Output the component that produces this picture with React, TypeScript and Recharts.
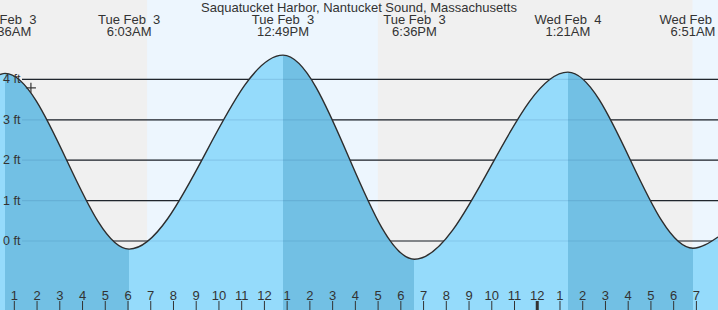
import React from "react";
import {
  ComposedChart,
  Area,
  XAxis,
  YAxis,
  ReferenceArea,
  ReferenceLine,
  ReferenceDot,
} from "recharts";

// hours from midnight Tue Feb 3
const TITLE = "Saquatucket Harbor, Nantucket Sound, Massachusetts";
const viewStart = 0.37;
const viewEnd = 31.95;
const tideTimes = [0.37, 0.6, 6.05, 12.82, 18.6, 25.35, 30.85, 31.95];
const tideHeights = [4.12, 4.15, -0.2, 4.6, -0.45, 4.18, -0.18, 0.1];

const eventTimes = [0.6, 6.05, 12.82, 18.6, 25.35, 30.85];
const eventHeights = [4.15, -0.2, 4.6, -0.45, 4.18, -0.18];
const eventDays = ["Tue Feb  3", "Tue Feb  3", "Tue Feb  3", "Tue Feb  3", "Wed Feb  4", "Wed Feb  4"];
const eventClock = ["12:36AM", "6:03AM", "12:49PM", "6:36PM", "1:21AM", "6:51AM"];
const eventKind = ["high", "low", "high", "low", "high", "low"];

const dayStarts = [6.84, 30.83];
const dayEnds = [16.99, 31.95];

const hourTicks = Array.from({ length: 31 }, (_, i) => i + 1);
const gridLevels = [0, 1, 2, 3, 4];
const yMin = -1.708;
const yMax = 5.965;

const nowTime = 1.73;
const nowHeight = 3.79;

const data = tideTimes.map((t, i) => ({ t, h: tideHeights[i] }));

const W = 718;
const H = 310;
const FONT = "'Liberation Sans', Arial, sans-serif";
const TEXT = "#333";
const LIGHT = "#95dbfb";
const DARK = "#72c0e4";

// gradient stops: falling tide (high -> low) is darker
const span = viewEnd - viewStart;
const stops: { off: number; color: string }[] = [];
{
  let prev = viewStart;
  let color = LIGHT;
  for (let i = 0; i < eventTimes.length; i++) {
    const off = (eventTimes[i] - viewStart) / span;
    stops.push({ off: (prev - viewStart) / span, color });
    stops.push({ off, color });
    color = eventKind[i] === "high" ? DARK : LIGHT;
    prev = eventTimes[i];
  }
  stops.push({ off: (prev - viewStart) / span, color });
  stops.push({ off: 1, color });
}

export default function App() {
  return (
    <div style={{ position: "absolute", left: 0, top: 0, width: W, height: H, background: "#f0f0f0" }}>
      <ComposedChart width={W} height={H} data={data} margin={{ top: 0, right: 0, bottom: 0, left: 0 }}>
        <defs>
          <linearGradient id="tideFill" x1="0" y1="0" x2="1" y2="0">
            {stops.map((s, i) => (
              <stop key={i} offset={s.off} stopColor={s.color} />
            ))}
          </linearGradient>
        </defs>
        <XAxis dataKey="t" type="number" domain={[viewStart, viewEnd]} allowDataOverflow hide />
        <YAxis type="number" domain={[yMin, yMax]} allowDataOverflow hide />
        {dayStarts.map((s, i) => (
          <ReferenceArea
            key={"day" + i}
            x1={s}
            x2={dayEnds[i]}
            y1={yMin}
            y2={yMax}
            fill="#edf6fe"
            fillOpacity={1}
            stroke="none"
            ifOverflow="extendDomain"
            zIndex={1}
          />
        ))}
        {gridLevels.map((v) => (
          <ReferenceLine
            key={"g" + v}
            y={v}
            zIndex={2}
            shape={(p: any) => (
              <line x1={(p.x1 ?? 0) + 22} x2={p.x2} y1={p.y1} y2={p.y2} stroke="#222" strokeWidth={1.2} />
            )}
          />
        ))}
        <Area
          dataKey="h"
          type="monotone"
          baseValue="dataMin"
          fill="url(#tideFill)"
          fillOpacity={1}
          stroke="#2d2d2d"
          strokeWidth={1.4}
          isAnimationActive={false}
          dot={false}
          activeDot={false}
          zIndex={3}
        />
        {gridLevels.map((v) => (
          <ReferenceLine
            key={"o" + v}
            y={v}
            zIndex={4}
            shape={(p: any) => (
              <g>
                <line x1={(p.x1 ?? 0) + 22} x2={p.x2} y1={p.y1} y2={p.y2} stroke="rgba(20,70,120,0.13)" strokeWidth={1.2} />
                <text x={3} y={(p.y1 ?? 0) + 4} fontSize={12.5} fontFamily={FONT} fill={TEXT} style={{ whiteSpace: "pre" }}>
                  {`${v} ft`}
                </text>
              </g>
            )}
          />
        ))}
        {hourTicks.map((h) => (
          <ReferenceLine
            key={"h" + h}
            x={h}
            zIndex={5}
            shape={(p: any) => {
              const x = p.x1 ?? 0;
              const label = h % 12 === 0 ? 12 : h % 12;
              return (
                <g>
                  <text x={x} y={300} textAnchor="middle" fontSize={13} fontFamily={FONT} fill={TEXT}>
                    {label}
                  </text>
                  <line x1={x} x2={x} y1={301} y2={310} stroke={TEXT} strokeWidth={h === 24 ? 3 : 1} />
                </g>
              );
            }}
          />
        ))}
        <ReferenceDot
          x={nowTime}
          y={nowHeight}
          zIndex={5}
          shape={(p: any) => (
            <g stroke={TEXT} strokeWidth={1.2}>
              <line x1={p.cx - 5} x2={p.cx + 5} y1={p.cy} y2={p.cy} />
              <line x1={p.cx} x2={p.cx} y1={p.cy - 5} y2={p.cy + 5} />
            </g>
          )}
        />
        {eventTimes.map((t, i) => (
          <ReferenceDot
            key={"e" + i}
            x={t}
            y={eventHeights[i]}
            zIndex={6}
            shape={(p: any) => (
              <g>
                <text x={p.cx} y={24} textAnchor="middle" fontSize={13} fontFamily={FONT} fill={TEXT} style={{ whiteSpace: "pre" }}>
                  {eventDays[i]}
                </text>
                <text x={p.cx} y={36} textAnchor="middle" fontSize={13} fontFamily={FONT} fill={TEXT}>
                  {eventClock[i]}
                </text>
              </g>
            )}
          />
        ))}
      </ComposedChart>
      <div
        style={{
          position: "absolute",
          left: 0,
          top: 0,
          width: W,
          textAlign: "center",
          fontFamily: FONT,
          fontSize: 13,
          lineHeight: "15px",
          color: TEXT,
        }}
      >
        {TITLE}
      </div>
    </div>
  );
}
